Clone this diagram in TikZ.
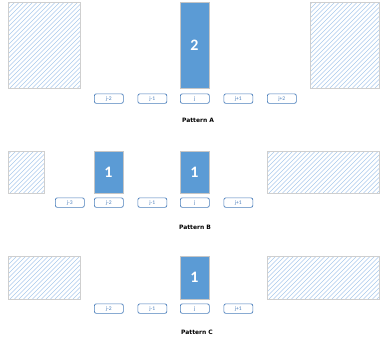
\documentclass[tikz,border=0pt]{standalone}
\usepackage{fontspec}
\setmainfont{Carlito}
\newfontfamily\capfont{DejaVu Sans}
\definecolor{cellblue}{HTML}{5B9BD5}
\definecolor{lblborder}{HTML}{4A7EBB}
\definecolor{lbltext}{HTML}{4F81BD}
\definecolor{hatchcol}{HTML}{A9C9EC}
\definecolor{hatchframe}{HTML}{CFCFCF}
\begin{document}
\begin{tikzpicture}[x=1bp,y=-1bp,
  hatchbox/.style={draw=hatchframe, line width=0.7bp, inner sep=0pt, outer sep=0pt, anchor=north west,
    path picture={\foreach \i in {-160,-155.5,...,120}{\draw[hatchcol, line width=0.55bp]
      ([xshift=\i bp]path picture bounding box.south west) -- ++(170bp,170bp);}}},
  cellbox/.style={fill=cellblue, draw=gray!45, line width=0.5bp, inner sep=0pt, outer sep=0pt,
    minimum width=29bp, anchor=north west, text=white, font=\bfseries\fontsize{16}{16}\selectfont},
  lbl/.style={draw=lblborder, fill=white, line width=0.7bp, rounded corners=2bp, inner sep=0pt,
    minimum width=29bp, minimum height=9.5bp, anchor=north west, text=lbltext, font=\fontsize{5.6}{5.6}\selectfont},
  caption/.style={font=\capfont\bfseries\fontsize{6}{6}\selectfont, inner sep=0pt}]
\useasboundingbox (0,0) rectangle (380,347);
% ---------- Pattern A ----------
\node[hatchbox, minimum width=72bp, minimum height=86bp] (aL) at (8,2) {};
\node[hatchbox, minimum width=69bp, minimum height=86bp] (aR) at (310,2) {};
\node[cellbox, minimum height=86bp] (aC) at (180,2) {2};
\node[lbl] (aj2) at (94,93.5) {j-2};
\node[lbl] (aj1) at (137.5,93.5) {j-1};
\node[lbl] (aj0) at (180,93.5) {j};
\node[lbl] (ajp1) at (223.5,93.5) {j+1};
\node[lbl] (ajp2) at (267,93.5) {j+2};
\node[caption] (capA) at (198,120.5) {Pattern A};
% ---------- Pattern B ----------
\node[hatchbox, minimum width=36bp, minimum height=42bp] (bL) at (8,151) {};
\node[hatchbox, minimum width=112bp, minimum height=42bp] (bR) at (267,151) {};
\node[cellbox, minimum height=42bp] (bC1) at (94,151) {1};
\node[cellbox, minimum height=42bp] (bC2) at (180,151) {1};
\node[lbl] (bj3) at (55,197.5) {j-3};
\node[lbl] (bj2) at (94,197.5) {j-2};
\node[lbl] (bj1) at (137.5,197.5) {j-1};
\node[lbl] (bj0) at (180,197.5) {j};
\node[lbl] (bjp1) at (223.5,197.5) {j+1};
\node[caption] (capB) at (195,227.5) {Pattern B};
% ---------- Pattern C ----------
\node[hatchbox, minimum width=72bp, minimum height=43bp] (cL) at (8,256) {};
\node[hatchbox, minimum width=112bp, minimum height=43bp] (cR) at (267,256) {};
\node[cellbox, minimum height=43bp] (cC) at (180,256) {1};
\node[lbl] (cj2) at (94,303.5) {j-2};
\node[lbl] (cj1) at (137.5,303.5) {j-1};
\node[lbl] (cj0) at (180,303.5) {j};
\node[lbl] (cjp1) at (223.5,303.5) {j+1};
\node[caption] (capC) at (197,332.5) {Pattern C};
\end{tikzpicture}
\end{document}
